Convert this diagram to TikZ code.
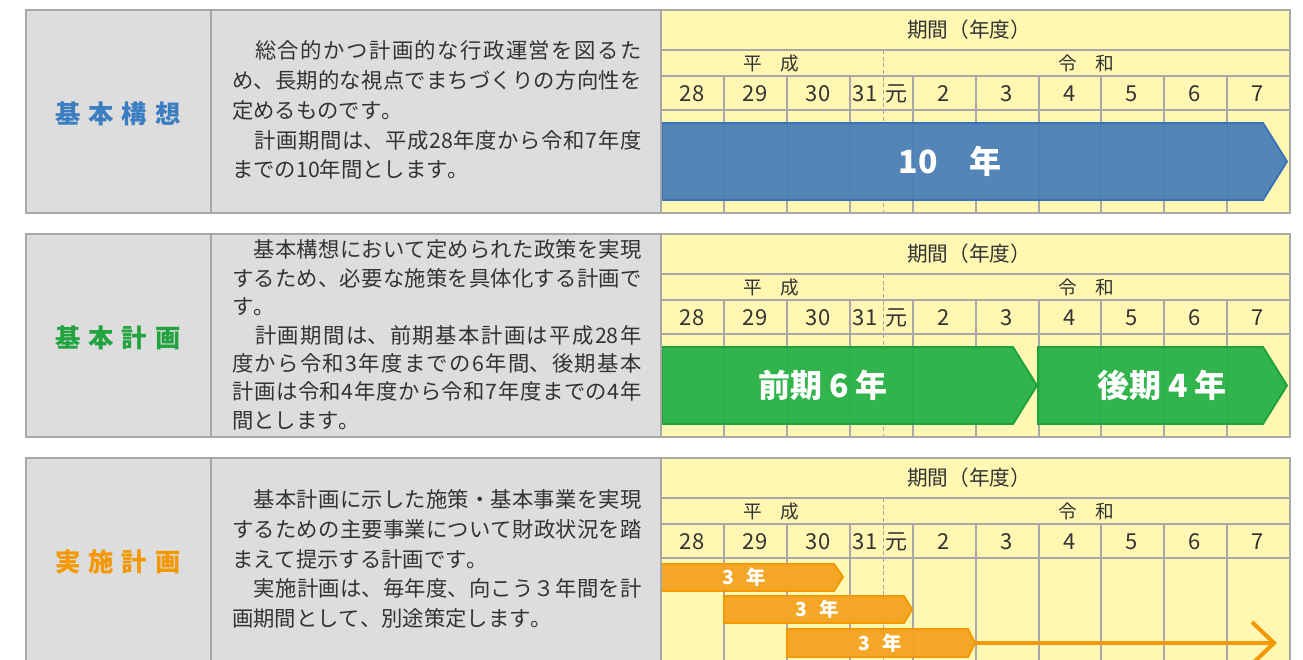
\documentclass[tikz,border=0pt]{standalone}
\usepackage{fontspec}
\setmainfont{Noto Sans CJK JP}[Kerning=Off]
\XeTeXlinebreaklocale "ja"
\XeTeXlinebreakskip=0pt plus 2pt
\definecolor{cellgray}{HTML}{DDDDDD}
\definecolor{rulegray}{HTML}{A8A8A8}
\definecolor{paleyellow}{HTML}{FFF7B2}
\definecolor{txt}{HTML}{333333}
\definecolor{bluefill}{HTML}{4A7FB8}
\definecolor{blueline}{HTML}{3A72BA}
\definecolor{bluelabel}{HTML}{3B7DC1}
\definecolor{greenfill}{HTML}{27B148}
\definecolor{greenline}{HTML}{1EA23D}
\definecolor{greenlabel}{HTML}{22A33F}
\definecolor{orangefill}{HTML}{F4A320}
\definecolor{orangeline}{HTML}{F39800}
\definecolor{orangelabel}{HTML}{F39800}
\tikzset{
  panelrule/.style={draw=rulegray, line width=1.1pt},
  gridrule/.style={draw=rulegray, line width=0.8pt},
  erarule/.style={draw=rulegray, line width=0.7pt, dash pattern=on 3pt off 2pt},
  desc/.style={anchor=west, align=justify, text width=307pt, inner sep=0pt, text=txt,
    font=\fontsize{16}{22.4}\selectfont,
    execute at begin node={\parindent0pt\tolerance9999\relax}},
  desctight/.style={desc, font=\fontsize{16}{21.3}\selectfont},
  label/.style={inner sep=0pt, font=\bfseries\fontsize{19}{19}\selectfont},
  hdr/.style={inner sep=0pt, text=txt, font=\fontsize{15.5}{15.5}\selectfont},
  era/.style={inner sep=0pt, text=txt, font=\fontsize{14}{14}\selectfont},
  yr/.style={inner sep=0pt, text=txt, font=\fontsize{16.5}{16.5}\selectfont},
  bartext/.style={inner sep=0pt, text=white, font=\bfseries\fontsize{24}{24}\selectfont},
  smallbartext/.style={inner sep=0pt, text=white, font=\bfseries\fontsize{14.5}{14.5}\selectfont},
  bluebar/.style={fill=bluefill, draw=blueline, line width=1.4pt, fill opacity=0.95},
  greenbar/.style={fill=greenfill, draw=greenline, line width=1.4pt, fill opacity=0.95},
  orangebar/.style={fill=orangefill, draw=orangeline, line width=1.4pt, fill opacity=0.95},
  orangearrow/.style={draw=orangeline, line width=3pt, line join=miter},
}
\newcommand\timegrid[2]{%
  \begin{scope}[shift={(0,#1)}]
    \fill[paleyellow] (661,0) rectangle (1290,203);
    \draw[gridrule] (661,40) -- (1290,40) (661,66) -- (1290,66) (661,100) -- (1290,100);
    \foreach \gx in {724,787,850,913,976,1039,1101,1164,1227} \draw[gridrule] (\gx,66) -- (\gx,203);
    \draw[erarule] (883,40) -- (883,203);
    \node[hdr] (#2title) at (969,20) {期間（年度）};
    \node[era] (#2heisei) at (771,53) {平　成};
    \node[era] (#2reiwa) at (1086,53) {令　和};
    \foreach \gx/\gt [count=\gi] in {692/28,755/29,818/30,865/31,896/元,944/2,1007/3,1070/4,1132/5,1195/6,1258/7}
      \node[yr] (#2y\gi) at (\gx,84) {\gt};
  \end{scope}}
\newcommand\panelframe[1]{%
  \begin{scope}[shift={(0,#1)}]
    \draw[panelrule] (26,0) rectangle (1290,203);
    \draw[panelrule] (211,0) -- (211,203) (661,0) -- (661,203);
  \end{scope}}
\begin{document}
\begin{tikzpicture}[x=0.75pt,y=-0.75pt]
  \useasboundingbox (0,0) rectangle (1303,660);
  % ---------- panel 1 ----------
  \fill[cellgray] (26,10) rectangle (661,213);
  \timegrid{10}{a}
  \begin{scope}[shift={(0,10)}]
    \draw[bluebar] (662,113) -- (1263,113) -- (1287,151.5) -- (1263,190) -- (662,190) -- cycle;
    \node[bartext] (abar) at (950,151) {10　年};
  \end{scope}
  \panelframe{10}
  \node[label, text=bluelabel] (alabel) at (118,114) {基\hspace{6pt}本\hspace{6pt}構\hspace{6pt}想};
  \node[desc] (adesc) at (232,110) {　総合的かつ計画的な行政運営を図るた\linebreak め、長期的な視点でまちづくりの方向性を\linebreak 定めるものです。\par　計画期間は、平成28年度から令和7年度\linebreak までの10年間とします。};
  % ---------- panel 2 ----------
  \fill[cellgray] (26,234) rectangle (661,437);
  \timegrid{234}{b}
  \begin{scope}[shift={(0,234)}]
    \draw[greenbar] (662,113) -- (1013,113) -- (1037,151.5) -- (1013,190) -- (662,190) -- cycle;
    \draw[greenbar] (1038,113) -- (1263,113) -- (1287,151.5) -- (1263,190) -- (1038,190) -- cycle;
    \node[bartext] (bbar1) at (823,151) {前期\hspace{5pt}6\hspace{5pt}年};
    \node[bartext] (bbar2) at (1162,151) {後期\hspace{5pt}4\hspace{5pt}年};
  \end{scope}
  \panelframe{234}
  \node[label, text=greenlabel] (blabel) at (118,338) {基\hspace{6pt}本\hspace{6pt}計\hspace{6pt}画};
  \node[desctight] (bdesc) at (232,335) {　基本構想において定められた政策を実現\linebreak するため、必要な施策を具体化する計画で\linebreak す。\par　計画期間は、前期基本計画は平成28年\linebreak 度から令和3年度までの6年間、後期基本\linebreak 計画は令和4年度から令和7年度までの4年\linebreak 間とします。};
  % ---------- panel 3 ----------
  \fill[cellgray] (26,458) rectangle (661,661);
  \timegrid{458}{c}
  \begin{scope}[shift={(0,458)}]
    \draw[orangebar] (661,106) -- (834,106) -- (843,119) -- (834,133) -- (661,133) -- cycle;
    \draw[orangebar] (724,138) -- (904,138) -- (912,151.5) -- (904,165) -- (724,165) -- cycle;
    \draw[orangebar] (787,171) -- (968,171) -- (975,185) -- (968,199) -- (787,199) -- cycle;
    \node[smallbartext] (cbar1) at (744,119) {3\hspace{9pt}年};
    \node[smallbartext] (cbar2) at (817,151.5) {3\hspace{9pt}年};
    \node[smallbartext] (cbar3) at (880,185) {3\hspace{9pt}年};
    \coordinate (ctip) at (975,185);
    \coordinate (cend) at (1274,185);
    \coordinate (cbarbtop) at (1252,164);
    \coordinate (cbarbbot) at (1252,206);
    \draw[orangearrow] (ctip) -- (cend);
    \draw[orangearrow] (cbarbtop) -- (cend) -- (cbarbbot);
  \end{scope}
  \panelframe{458}
  \node[label, text=orangelabel] (clabel) at (118,562) {実\hspace{6pt}施\hspace{6pt}計\hspace{6pt}画};
  \node[desc] (cdesc) at (232,559) {　基本計画に示した施策・基本事業を実現\linebreak するための主要事業について財政状況を踏\linebreak まえて提示する計画です。\par　実施計画は、毎年度、向こう３年間を計\linebreak 画期間として、別途策定します。};
\end{tikzpicture}
\end{document}
